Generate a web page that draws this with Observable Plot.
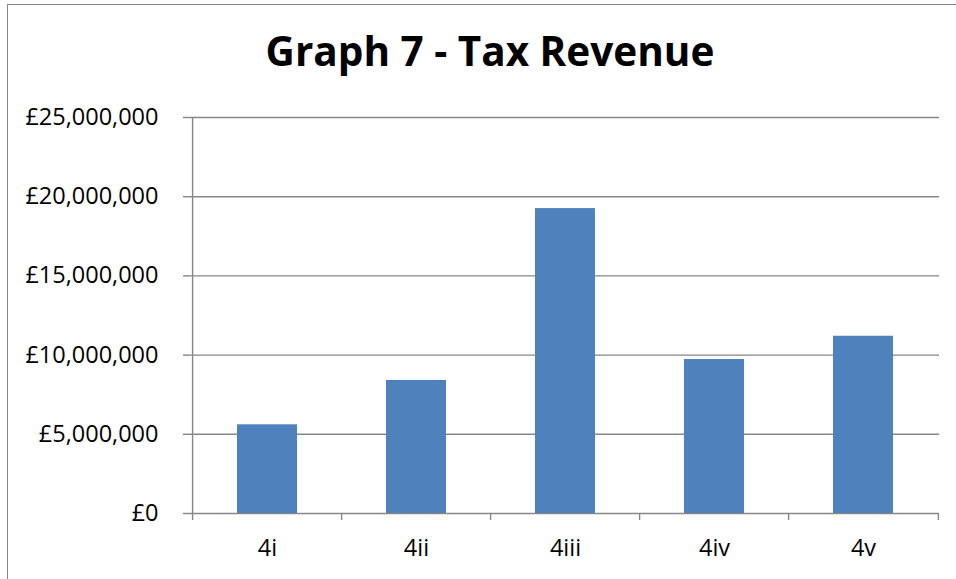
<!DOCTYPE html>
<html>
<head>
<meta charset="utf-8">
<script src="https://cdn.jsdelivr.net/npm/d3@7"></script>
<script src="https://cdn.jsdelivr.net/npm/@observablehq/plot@0.6"></script>
<style>
  html, body { margin: 0; padding: 0; background: #fff; }
  #wrap { position: relative; width: 956px; height: 579px; overflow: hidden; font-family: "Open Sans", sans-serif; }
  #border { position: absolute; left: 7px; top: 4px; width: 2000px; height: 2000px; border-left: 1.3px solid #888; border-top: 1.3px solid #888; box-sizing: border-box; }
  #title { position: absolute; left: 0; top: 31px; width: 980px; text-align: center; font-size: 40.5px; font-weight: 700; line-height: 40.5px; color: #000; white-space: nowrap; }
  #chart { position: absolute; left: 0; top: 100px; }
</style>
</head>
<body>
<div id="wrap">
  <div id="border"></div>
  <div id="title">Graph 7 - Tax Revenue</div>
  <div id="chart"></div>
</div>
<script>
const categories = ["4i", "4ii", "4iii", "4iv", "4v"];
const revenue = [5600000, 8400000, 19250000, 9720000, 11190000];
const yTicks = [0, 5000000, 10000000, 15000000, 20000000, 25000000];

const data = categories.map((c, i) => ({category: c, revenue: revenue[i]}));

const W = 956, H = 479, mL = 190, mR = 17, mT = 17, mB = 66;
const step = (W - mL - mR) / categories.length;
const fmt = d => "£" + d3.format(",")(d);
const font = "Open Sans, sans-serif";
const lineStyle = {stroke: "#878787", strokeWidth: 1.4, strokeOpacity: 1};

const plot = Plot.plot({
  width: W,
  height: H,
  marginLeft: mL,
  marginRight: mR,
  marginTop: mT,
  marginBottom: mB,
  style: {fontFamily: font, background: "transparent", color: "#000"},
  x: {type: "band", domain: categories, paddingInner: 0.6, paddingOuter: 0.3, align: 0.5},
  y: {domain: [0, 25000000]},
  marks: [
    Plot.ruleY(yTicks, {...lineStyle}),
    Plot.barY(data, {x: "category", y: "revenue", fill: "#4f81bd"}),
    // vertical axis line (left edge of plot area)
    Plot.ruleX([categories[0]], {x: d => d, y1: 25000000, y2: 0, dx: -step / 2, insetBottom: -7, ...lineStyle}),
    // category boundary ticks (left of each category)
    Plot.ruleX(categories.slice(1), {x: d => d, y1: 0, y2: 0, dx: -step / 2, insetBottom: -7, ...lineStyle}),
    // right-most boundary tick
    Plot.ruleX([categories[categories.length - 1]], {x: d => d, y1: 0, y2: 0, dx: step / 2, insetBottom: -7, ...lineStyle}),
    Plot.axisY({ticks: yTicks, tickFormat: fmt, tickSize: 7, tickPadding: 25, ...lineStyle, fontSize: 23.5, fill: "#000", label: null}),
    Plot.axisX({tickSize: 0, tickPadding: 26, fontSize: 23.5, fill: "#000", label: null})
  ]
});
document.getElementById("chart").appendChild(plot);
</script>
</body>
</html>
